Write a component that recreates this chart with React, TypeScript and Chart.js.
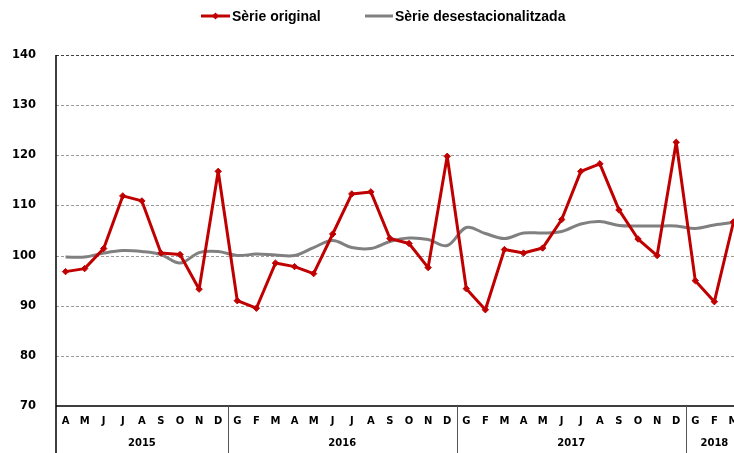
import React, { useEffect, useRef } from "react";
import { Chart, registerables } from "chart.js";

Chart.register(...registerables);

const months = ["A","M","J","J","A","S","O","N","D","G","F","M","A","M","J","J","A","S","O","N","D","G","F","M","A","M","J","J","A","S","O","N","D","G","F","M"];
const years = ["2015", "2016", "2017", "2018"];
const yearCounts = [9, 12, 12, 3];
const serieOriginal = [96.8, 97.4, 101.4, 111.9, 110.9, 100.5, 100.2, 93.3, 116.8, 91.0, 89.5, 98.5, 97.8, 96.4, 104.3, 112.3, 112.7, 103.4, 102.4, 97.6, 119.8, 93.4, 89.2, 101.2, 100.5, 101.5, 107.2, 116.8, 118.3, 109.1, 103.3, 100.0, 122.6, 95.0, 90.8, 106.7];
const serieDesest = [99.7, 99.7, 100.5, 101.0, 100.8, 100.2, 98.5, 100.6, 100.8, 100.0, 100.3, 100.1, 100.0, 101.6, 103.0, 101.6, 101.4, 102.8, 103.5, 103.2, 102.0, 105.6, 104.4, 103.4, 104.5, 104.5, 104.8, 106.3, 106.8, 106.0, 105.9, 105.9, 105.9, 105.4, 106.1, 106.6];
const seriesLabels = ["Sèrie original", "Sèrie desestacionalitzada"];

const RED = "#C00000";
const GRAY = "#808080";

export default function App() {
  const ref = useRef<HTMLCanvasElement | null>(null);
  useEffect(() => {
    document.body.style.margin = "0";
    document.body.style.overflow = "hidden";
    const canvas = ref.current!;
    const framePlugin = {
      id: "frame",
      beforeDatasetsDraw(chart: any) {
        const ctx = chart.ctx;
        const ca = chart.chartArea;
        const y = chart.scales.y;
        ctx.save();
        ctx.lineWidth = 1;
        ctx.setLineDash([3, 2]);
        for (let v = 80; v <= 140; v += 10) {
          const py = Math.round(y.getPixelForValue(v)) + 0.5;
          ctx.strokeStyle = v === 140 ? "#404040" : "#9a9a9a";
          ctx.beginPath();
          ctx.moveTo(ca.left, py);
          ctx.lineTo(ca.right, py);
          ctx.stroke();
        }
        ctx.restore();
      },
      afterDraw(chart: any) {
        const ctx = chart.ctx;
        const ca = chart.chartArea;
        const x = chart.scales.x;
        const H = chart.height;
        const n = months.length;
        const w = (ca.right - ca.left) / n;
        ctx.save();
        ctx.strokeStyle = "#000";
        ctx.lineWidth = 1.5;
        ctx.beginPath();
        ctx.moveTo(ca.left, ca.top);
        ctx.lineTo(ca.left, H);
        ctx.moveTo(ca.left, ca.bottom);
        ctx.lineTo(ca.right, ca.bottom);
        ctx.stroke();
        // year dividers and labels
        let start = 0;
        ctx.font = "bold 10px 'DejaVu Sans'";
        ctx.fillStyle = "#000";
        ctx.textAlign = "center";
        ctx.textBaseline = "middle";
        years.forEach((yr, i) => {
          const l = x.getPixelForValue(start) - w / 2;
          const r = x.getPixelForValue(start + yearCounts[i] - 1) + w / 2;
          ctx.fillText(yr, (l + r) / 2, 443);
          if (i > 0) {
            ctx.strokeStyle = "#555";
            ctx.lineWidth = 1;
            ctx.beginPath();
            ctx.moveTo(Math.round(l) + 0.5, ca.bottom);
            ctx.lineTo(Math.round(l) + 0.5, H);
            ctx.stroke();
          }
          start += yearCounts[i];
        });
        // legend
        const ly = 16;
        ctx.font = "bold 14px 'Liberation Sans'";
        ctx.textAlign = "left";
        ctx.textBaseline = "middle";
        ctx.lineWidth = 3;
        ctx.strokeStyle = RED;
        ctx.beginPath();
        ctx.moveTo(201, ly);
        ctx.lineTo(230, ly);
        ctx.stroke();
        ctx.fillStyle = RED;
        ctx.beginPath();
        ctx.moveTo(215.5, ly - 3.5);
        ctx.lineTo(219, ly);
        ctx.lineTo(215.5, ly + 3.5);
        ctx.lineTo(212, ly);
        ctx.closePath();
        ctx.fill();
        ctx.fillStyle = "#000";
        ctx.fillText(seriesLabels[0], 232, ly + 1);
        ctx.strokeStyle = GRAY;
        ctx.beginPath();
        ctx.moveTo(365, ly);
        ctx.lineTo(393, ly);
        ctx.stroke();
        ctx.fillText(seriesLabels[1], 395, ly + 1);
        ctx.restore();
      },
    };
    const chart = new Chart(canvas, {
      type: "line",
      data: {
        labels: months,
        datasets: [
          {
            label: seriesLabels[0],
            data: serieOriginal,
            borderColor: RED,
            backgroundColor: RED,
            borderWidth: 3,
            borderJoinStyle: "round",
            borderCapStyle: "round",
            tension: 0,
            pointStyle: "rectRot",
            pointRadius: 3.2,
            pointBorderWidth: 1,
            pointBackgroundColor: RED,
            pointBorderColor: RED,
          },
          {
            label: seriesLabels[1],
            data: serieDesest,
            borderColor: GRAY,
            backgroundColor: GRAY,
            borderWidth: 3,
            borderJoinStyle: "round",
            tension: 0.35,
            pointRadius: 0,
          },
        ],
      },
      options: {
        animation: false,
        responsive: false,
        layout: { padding: { left: 0, top: 55, right: 17, bottom: 0 } },
        plugins: { legend: { display: false }, tooltip: { enabled: false } },
        scales: {
          x: {
            type: "category",
            offset: true,
            grid: { display: false, drawTicks: false },
            border: { display: false },
            ticks: {
              color: "#000",
              font: { family: "'DejaVu Sans'", weight: "bold", size: 10 },
              padding: 9,
              maxRotation: 0,
              autoSkip: false,
            },
            afterFit(scale: any) {
              scale.height = 47;
            },
          },
          y: {
            min: 70,
            max: 140,
            ticks: {
              stepSize: 10,
              color: "#000",
              font: { family: "'DejaVu Sans'", weight: "bold", size: 11.5 },
              padding: 20,
            },
            grid: { display: false, drawTicks: false },
            border: { display: false },
            afterFit(scale: any) {
              scale.width = 56;
            },
          },
        },
      },
      plugins: [framePlugin],
    });
    return () => chart.destroy();
  }, []);
  return (
    <div style={{ width: 734, height: 453, overflow: "hidden", background: "#fff" }}>
      <canvas ref={ref} width={760} height={453} style={{ display: "block" }} />
    </div>
  );
}
